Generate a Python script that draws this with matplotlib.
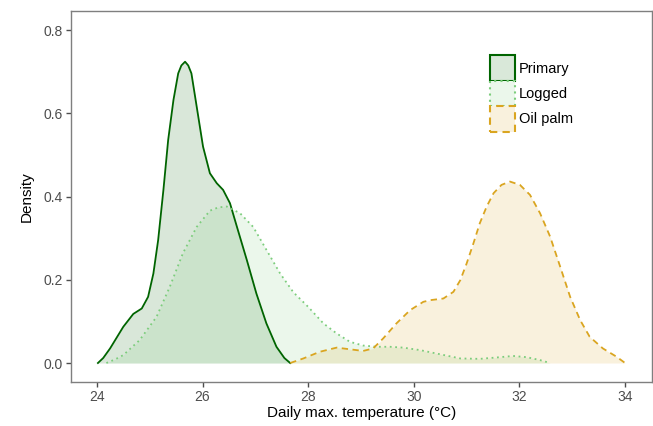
import matplotlib
matplotlib.use('Agg')
import matplotlib.pyplot as plt
from matplotlib.patches import Patch

plt.rcParams['font.family'] = ['Liberation Sans', 'DejaVu Sans']

# density curves
primary_x = [24.02, 24.12, 24.25, 24.50, 24.69, 24.85, 24.97, 25.07, 25.16, 25.26,
             25.35, 25.45, 25.54, 25.60, 25.67, 25.73, 25.79, 25.89, 26.01, 26.14,
             26.27, 26.39, 26.52, 26.65, 26.84, 27.02, 27.21, 27.40, 27.55, 27.66]
primary_y = [0.0, 0.012, 0.035, 0.087, 0.118, 0.131, 0.159, 0.215, 0.295, 0.416,
             0.536, 0.632, 0.696, 0.715, 0.724, 0.715, 0.696, 0.616, 0.520, 0.456,
             0.432, 0.416, 0.384, 0.328, 0.247, 0.167, 0.095, 0.039, 0.012, 0.0]

logged_x = [24.18, 24.35, 24.50, 24.81, 25.13, 25.38, 25.63, 25.89, 26.14, 26.30,
            26.46, 26.71, 26.96, 27.21, 27.47, 27.72, 28.00, 28.29, 28.54, 28.79,
            29.04, 29.30, 29.55, 29.80, 30.12, 30.50, 30.88, 31.25, 31.63, 31.88,
            32.14, 32.39, 32.58]
logged_y = [0.0, 0.009, 0.019, 0.055, 0.111, 0.183, 0.264, 0.327, 0.366, 0.374,
            0.376, 0.360, 0.327, 0.272, 0.215, 0.170, 0.135, 0.095, 0.071, 0.051,
            0.042, 0.039, 0.039, 0.037, 0.031, 0.021, 0.011, 0.010, 0.014, 0.017,
            0.014, 0.007, 0.0]

oil_x = [27.66, 27.91, 28.22, 28.54, 28.79, 29.04, 29.23, 29.42, 29.67, 29.93,
         30.18, 30.31, 30.56, 30.75, 30.88, 31.00, 31.13, 31.25, 31.38, 31.51,
         31.66, 31.82, 32.01, 32.20, 32.39, 32.58, 32.77, 32.96, 33.15, 33.33,
         33.58, 33.84, 34.00]
oil_y = [0.0, 0.011, 0.027, 0.037, 0.033, 0.029, 0.035, 0.059, 0.095, 0.127,
         0.147, 0.151, 0.155, 0.171, 0.199, 0.239, 0.288, 0.336, 0.376, 0.408,
         0.428, 0.436, 0.428, 0.404, 0.360, 0.304, 0.232, 0.159, 0.103, 0.063,
         0.035, 0.015, 0.0]

labels = ['Primary', 'Logged', 'Oil palm']
line_colors = ['#006400', '#7CCD7C', '#DAA520']
fill_colors = ['#d9e8d9', '#ebf7eb', '#f9f1dd']
styles = ['-', (0, (1, 2)), (0, (3.5, 2.5))]
widths = [1.3, 1.3, 1.3]

fig = plt.figure(figsize=(6.53, 4.26), dpi=100)
ax = fig.add_axes([0.1087, 0.1033, 0.8898, 0.8707])

series = [(primary_x, primary_y), (logged_x, logged_y), (oil_x, oil_y)]
for i, (xs, ys) in enumerate(series):
    ax.fill_between(xs, ys, 0, color=line_colors[i], alpha=0.15, lw=0, zorder=1 + i)
for i, (xs, ys) in enumerate(series):
    ax.plot(xs, ys, color=line_colors[i], linestyle=styles[i], lw=widths[i], zorder=5)

ax.set_xlim(23.51, 34.51)
ax.set_ylim(-0.0456, 0.8457)
ax.set_xticks([24, 26, 28, 30, 32, 34])
ax.set_yticks([0.0, 0.2, 0.4, 0.6, 0.8])
ax.set_yticklabels(['0.0', '0.2', '0.4', '0.6', '0.8'])

for s in ax.spines.values():
    s.set_color('#7f7f7f')
    s.set_linewidth(1.0)
ax.tick_params(colors='#4d4d4d', labelcolor='#4d4d4d', labelsize=10,
               length=3.5, width=1.0, pad=2.5)

ax.set_xlabel('Daily max. temperature (°C)', fontsize=11, color='black', labelpad=1.5)
ax.set_ylabel('Density', fontsize=11, color='black', labelpad=7)

handles = [Patch(facecolor=fill_colors[i], edgecolor=line_colors[i],
                 linestyle=styles[i], linewidth=widths[i] + 0.2) for i in range(3)]
fig.legend(handles=handles, labels=labels, loc='upper left',
           bbox_to_anchor=(483 / 653, 1 - 48 / 426), frameon=False,
           fontsize=10.5, handlelength=1.71, handleheight=2.31,
           labelspacing=0.0, borderpad=0, handletextpad=0.25)

fig.savefig('out.png', dpi=100)
